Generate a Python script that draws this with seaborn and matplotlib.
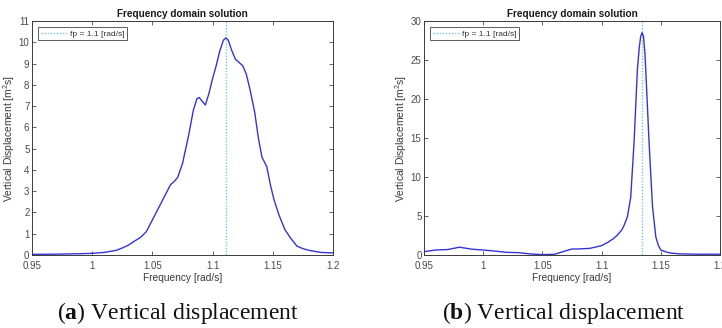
import numpy as np
import pandas as pd
import matplotlib
matplotlib.use("Agg")
import matplotlib.pyplot as plt
import seaborn as sns

# Response spectrum, case (a)
freq_a = [0.95, 0.97, 0.99, 1.00, 1.01, 1.02, 1.025, 1.03, 1.035, 1.04, 1.045,
          1.05, 1.055, 1.06, 1.065, 1.068, 1.071, 1.075, 1.08, 1.084, 1.087,
          1.089, 1.091, 1.094, 1.097, 1.1, 1.103, 1.106, 1.109, 1.111, 1.113,
          1.116, 1.119, 1.122, 1.125, 1.128, 1.131, 1.135, 1.138, 1.141, 1.145,
          1.148, 1.151, 1.155, 1.16, 1.165, 1.17, 1.175, 1.18, 1.19, 1.2]
disp_a = [0.03, 0.04, 0.06, 0.08, 0.12, 0.22, 0.33, 0.46, 0.65, 0.82, 1.1,
          1.65, 2.2, 2.75, 3.3, 3.45, 3.65, 4.3, 5.6, 6.8, 7.35,
          7.4, 7.25, 7.05, 7.6, 8.3, 8.9, 9.6, 10.1, 10.2, 10.1,
          9.6, 9.2, 9.05, 8.9, 8.5, 7.8, 6.7, 5.5, 4.6, 4.15,
          3.3, 2.6, 1.9, 1.2, 0.78, 0.42, 0.3, 0.22, 0.12, 0.1]

# Response spectrum, case (b)
freq_b = [0.95, 0.96, 0.97, 0.98, 0.99, 1.00, 1.01, 1.02, 1.03, 1.04, 1.05,
          1.06, 1.07, 1.075, 1.08, 1.09, 1.1, 1.105, 1.11, 1.1133, 1.117,
          1.119, 1.1218, 1.1246, 1.1274, 1.1302, 1.1318, 1.133, 1.1342, 1.1354,
          1.1366, 1.1373, 1.1401, 1.143, 1.1458, 1.148, 1.15, 1.1545, 1.1585,
          1.165, 1.18, 1.2]
disp_b = [0.43, 0.64, 0.7, 1.0, 0.75, 0.64, 0.5, 0.34, 0.3, 0.13, 0.05,
          0.08, 0.55, 0.77, 0.77, 0.85, 1.2, 1.6, 2.1, 2.55, 3.2,
          3.8, 4.9, 7.4, 14.4, 23.7, 26.6, 28.0, 28.5, 28.0, 25.8,
          23.7, 14.4, 6.2, 2.3, 1.2, 0.64, 0.38, 0.25, 0.15, 0.1, 0.1]

peak_a = 1.111
peak_b = 1.1342

xticks = [0.95, 1.0, 1.05, 1.1, 1.15, 1.2]
xticklabels = ["0.95", "1", "1.05", "1.1", "1.15", "1.2"]
yticks_a = list(range(0, 12))
yticks_b = [0, 5, 10, 15, 20, 25, 30]

sns.set_theme(style="ticks")
plt.rcParams["font.family"] = ["Liberation Sans", "DejaVu Sans"]
plt.rcParams["mathtext.fontset"] = "custom"
plt.rcParams["mathtext.rm"] = "Liberation Sans"
plt.rcParams["mathtext.bf"] = "Liberation Serif:bold"

line_color = "#3434d6"
peak_color = "#7cc4e0"
tick_color = "#4a4a4a"

fig = plt.figure(figsize=(7.22, 3.28), dpi=100)
W, H = 722, 328
ax_a = fig.add_axes([32 / W, (H - 255) / H, 301 / W, 234 / H])
ax_b = fig.add_axes([424 / W, (H - 255) / H, 296 / W, 234 / H])


def style(ax, x, y, peak, yticks, ymax):
    df = pd.DataFrame({"Frequency": x, "Displacement": y})
    ax.axvline(peak, color=peak_color, linestyle=(0, (1, 1.2)), lw=1.0,
               label="fp = 1.1 [rad/s]")
    sns.lineplot(data=df, x="Frequency", y="Displacement", ax=ax,
                 color=line_color, lw=1.0, legend=False)
    ax.set_xlim(0.95, 1.2)
    ax.set_ylim(0, ymax)
    ax.set_xticks(xticks)
    ax.set_xticklabels(xticklabels)
    ax.set_yticks(yticks)
    ax.tick_params(direction="in", length=3, width=0.6, labelsize=7,
                   colors=tick_color, top=True, right=True)
    ax.tick_params(axis="x", pad=4)
    ax.tick_params(axis="y", pad=1.8)
    for s in ax.spines.values():
        s.set_color("#3a3a3a")
        s.set_linewidth(0.7)
    ax.set_xlabel("Frequency [rad/s]", fontsize=7.3, color="#3a3a3a", labelpad=2)
    ax.set_ylabel(r"Vertical Displacement [m$^2$s]", fontsize=7.4,
                  color="#3a3a3a", labelpad=1)
    ax.set_title("Frequency domain solution", fontsize=7.2, fontweight="bold",
                 color="#1a1a1a", pad=3)
    leg = ax.legend(loc="upper left", fontsize=6.0, frameon=True, fancybox=False,
                    handlelength=3.2, handletextpad=0.3, borderpad=0.35,
                    borderaxespad=0.7)
    leg.get_frame().set_edgecolor("#333333")
    leg.get_frame().set_linewidth(0.7)
    for t in leg.get_texts():
        t.set_color("#333333")


style(ax_a, freq_a, disp_a, peak_a, yticks_a, 11)
style(ax_b, freq_b, disp_b, peak_b, yticks_b, 30)

cap_kw = dict(ha="center", va="center", fontsize=17,
              family=["Liberation Serif", "DejaVu Serif"], color="#111111")
fig.text(178 / W, 1 - 313 / H, r"($\mathbf{a}$) Vertical displacement", **cap_kw)
fig.text(564 / W, 1 - 313 / H, r"($\mathbf{b}$) Vertical displacement", **cap_kw)

fig.savefig("out.png", dpi=100, facecolor="white")
